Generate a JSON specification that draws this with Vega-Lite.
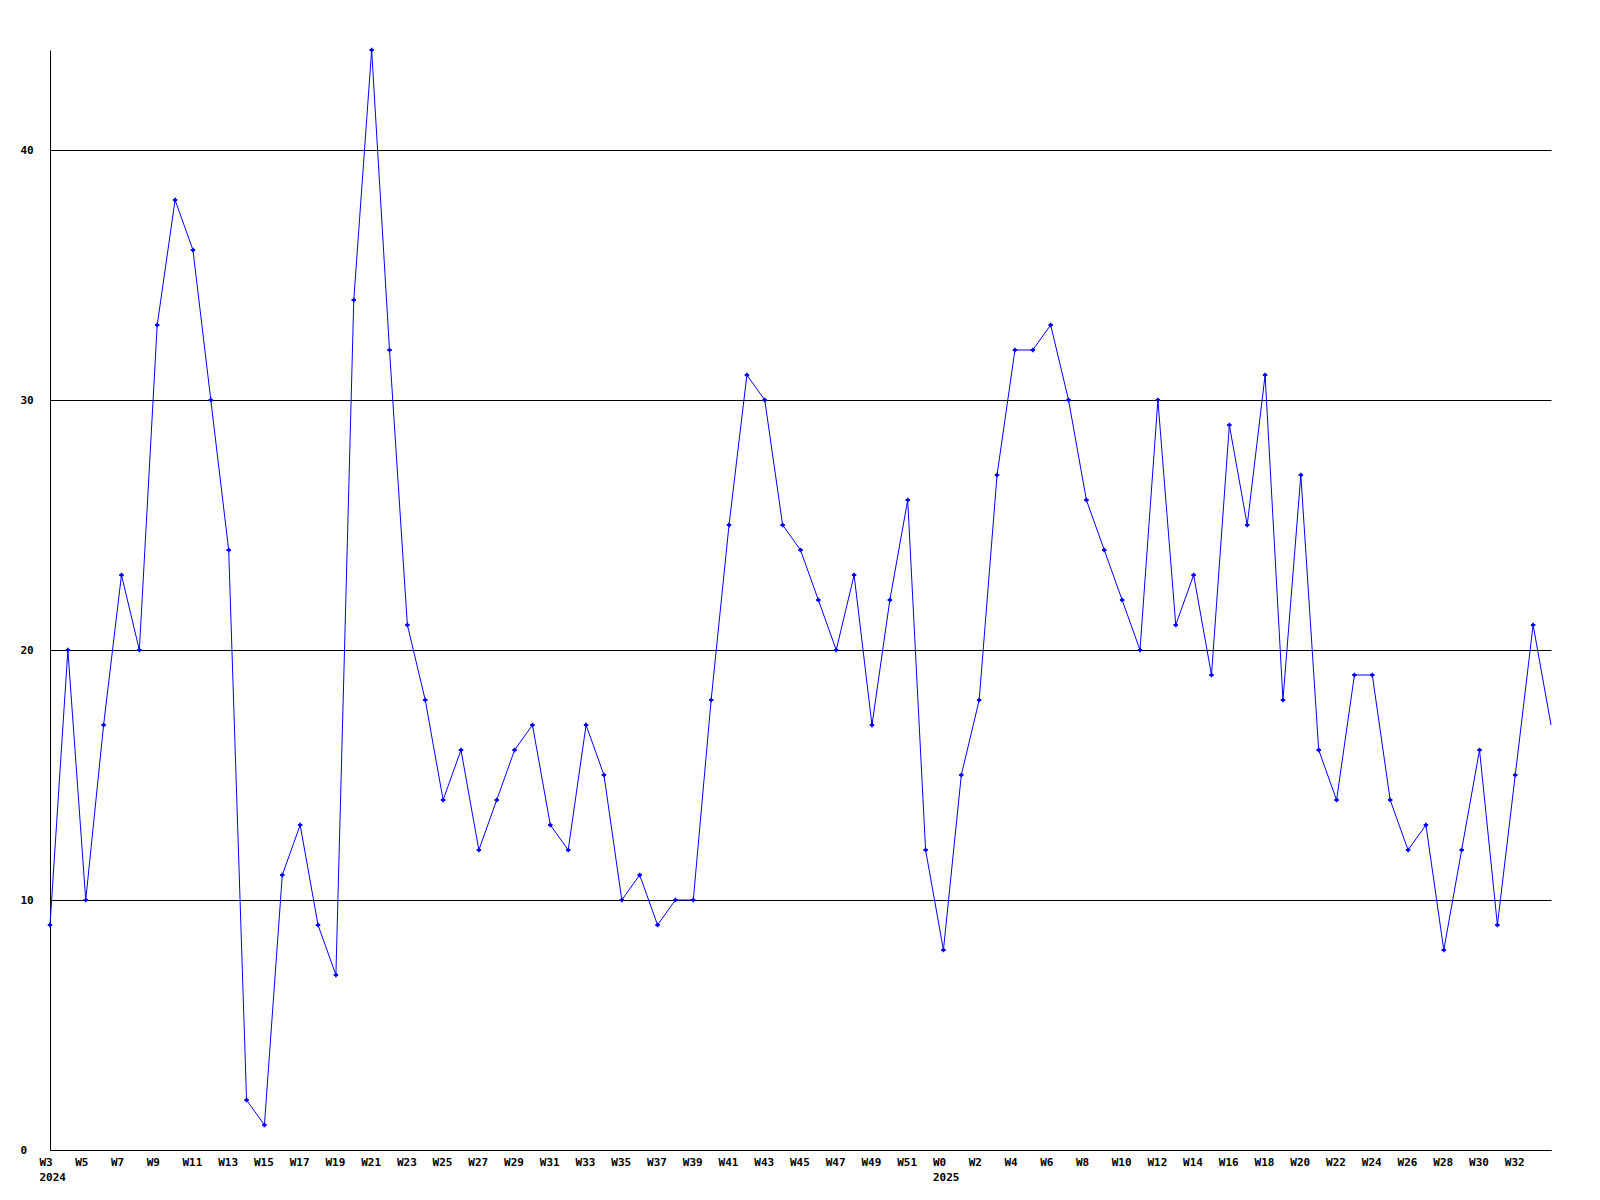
{
  "$schema": "https://vega.github.io/schema/vega-lite/v6.json",
  "width": 1501,
  "height": 1100,
  "autosize": {"type": "none"},
  "padding": {"left": 50, "top": 50, "right": 49, "bottom": 50},
  "background": "white",
  "config": {"view": {"stroke": null}},
  "data": {"values": [
    {"wk": "2024 W3", "v": 9}, {"wk": "2024 W4", "v": 20}, {"wk": "2024 W5", "v": 10}, {"wk": "2024 W6", "v": 17},
    {"wk": "2024 W7", "v": 23}, {"wk": "2024 W8", "v": 20}, {"wk": "2024 W9", "v": 33}, {"wk": "2024 W10", "v": 38},
    {"wk": "2024 W11", "v": 36}, {"wk": "2024 W12", "v": 30}, {"wk": "2024 W13", "v": 24}, {"wk": "2024 W14", "v": 2},
    {"wk": "2024 W15", "v": 1}, {"wk": "2024 W16", "v": 11}, {"wk": "2024 W17", "v": 13}, {"wk": "2024 W18", "v": 9},
    {"wk": "2024 W19", "v": 7}, {"wk": "2024 W20", "v": 34}, {"wk": "2024 W21", "v": 44}, {"wk": "2024 W22", "v": 32},
    {"wk": "2024 W23", "v": 21}, {"wk": "2024 W24", "v": 18}, {"wk": "2024 W25", "v": 14}, {"wk": "2024 W26", "v": 16},
    {"wk": "2024 W27", "v": 12}, {"wk": "2024 W28", "v": 14}, {"wk": "2024 W29", "v": 16}, {"wk": "2024 W30", "v": 17},
    {"wk": "2024 W31", "v": 13}, {"wk": "2024 W32", "v": 12}, {"wk": "2024 W33", "v": 17}, {"wk": "2024 W34", "v": 15},
    {"wk": "2024 W35", "v": 10}, {"wk": "2024 W36", "v": 11}, {"wk": "2024 W37", "v": 9}, {"wk": "2024 W38", "v": 10},
    {"wk": "2024 W39", "v": 10}, {"wk": "2024 W40", "v": 18}, {"wk": "2024 W41", "v": 25}, {"wk": "2024 W42", "v": 31},
    {"wk": "2024 W43", "v": 30}, {"wk": "2024 W44", "v": 25}, {"wk": "2024 W45", "v": 24}, {"wk": "2024 W46", "v": 22},
    {"wk": "2024 W47", "v": 20}, {"wk": "2024 W48", "v": 23}, {"wk": "2024 W49", "v": 17}, {"wk": "2024 W50", "v": 22},
    {"wk": "2024 W51", "v": 26}, {"wk": "2024 W52", "v": 12}, {"wk": "2025 W0", "v": 8}, {"wk": "2025 W1", "v": 15},
    {"wk": "2025 W2", "v": 18}, {"wk": "2025 W3", "v": 27}, {"wk": "2025 W4", "v": 32}, {"wk": "2025 W5", "v": 32},
    {"wk": "2025 W6", "v": 33}, {"wk": "2025 W7", "v": 30}, {"wk": "2025 W8", "v": 26}, {"wk": "2025 W9", "v": 24},
    {"wk": "2025 W10", "v": 22}, {"wk": "2025 W11", "v": 20}, {"wk": "2025 W12", "v": 30}, {"wk": "2025 W13", "v": 21},
    {"wk": "2025 W14", "v": 23}, {"wk": "2025 W15", "v": 19}, {"wk": "2025 W16", "v": 29}, {"wk": "2025 W17", "v": 25},
    {"wk": "2025 W18", "v": 31}, {"wk": "2025 W19", "v": 18}, {"wk": "2025 W20", "v": 27}, {"wk": "2025 W21", "v": 16},
    {"wk": "2025 W22", "v": 14}, {"wk": "2025 W23", "v": 19}, {"wk": "2025 W24", "v": 19}, {"wk": "2025 W25", "v": 14},
    {"wk": "2025 W26", "v": 12}, {"wk": "2025 W27", "v": 13}, {"wk": "2025 W28", "v": 8}, {"wk": "2025 W29", "v": 12},
    {"wk": "2025 W30", "v": 16}, {"wk": "2025 W31", "v": 9}, {"wk": "2025 W32", "v": 15}, {"wk": "2025 W33", "v": 21},
    {"wk": "2025 W34", "v": 17}
  ]},
  "encoding": {
    "x": {
      "field": "wk", "type": "ordinal", "sort": null,
      "scale": {"type": "point", "padding": 0},
      "axis": {
        "title": null,
        "values": ["2024 W3","2024 W5","2024 W7","2024 W9","2024 W11","2024 W13","2024 W15","2024 W17","2024 W19","2024 W21","2024 W23","2024 W25","2024 W27","2024 W29","2024 W31","2024 W33","2024 W35","2024 W37","2024 W39","2024 W41","2024 W43","2024 W45","2024 W47","2024 W49","2024 W51","2025 W0","2025 W2","2025 W4","2025 W6","2025 W8","2025 W10","2025 W12","2025 W14","2025 W16","2025 W18","2025 W20","2025 W22","2025 W24","2025 W26","2025 W28","2025 W30","2025 W32"],
        "labelExpr": "(datum.value == '2024 W3' || datum.value == '2025 W0') ? [split(datum.value, ' ')[1], split(datum.value, ' ')[0]] : split(datum.value, ' ')[1]",
        "labelAngle": 0,
        "labelAlign": "left",
        "labelBaseline": "top",
        "labelOffset": -11,
        "labelPadding": 6,
        "labelFont": "DejaVu Sans Mono",
        "labelFontWeight": "bold",
        "labelFontSize": 11,
        "labelColor": "black",
        "labelLineHeight": 15,
        "labelOverlap": false,
        "labelBound": false,
        "labelFlush": false,
        "ticks": false,
        "tickSize": 0,
        "grid": false,
        "domainColor": "black",
        "domainWidth": 1
      }
    },
    "y": {
      "field": "v", "type": "quantitative",
      "scale": {"domain": [0, 44], "nice": false, "zero": true},
      "axis": {
        "title": null,
        "values": [0, 10, 20, 30, 40],
        "labelAlign": "left",
        "labelBaseline": "middle",
        "labelPadding": 30,
        "labelFont": "DejaVu Sans Mono",
        "labelFontWeight": "bold",
        "labelFontSize": 11,
        "labelColor": "black",
        "ticks": false,
        "tickSize": 0,
        "grid": true,
        "gridColor": "black",
        "gridOpacity": 1,
        "gridWidth": 1,
        "domainColor": "black",
        "domainWidth": 1
      }
    }
  },
  "layer": [
    {"mark": {"type": "line", "color": "#0000ff", "strokeWidth": 1}},
    {"transform": [{"filter": "datum.wk != '2025 W34'"}],
     "mark": {"type": "point", "shape": "cross", "size": 20, "filled": true, "color": "#0000ff", "opacity": 1}}
  ]
}
